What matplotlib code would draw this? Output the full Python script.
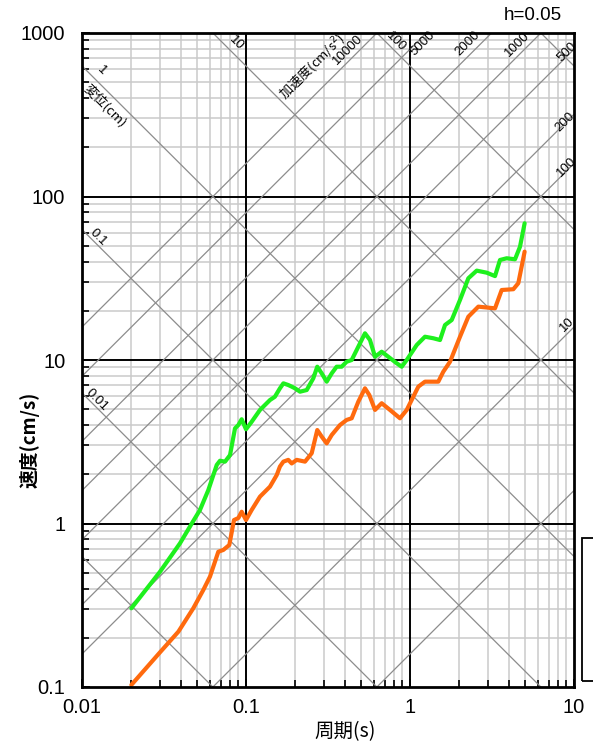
import numpy as np
import matplotlib
matplotlib.use("Agg")
import matplotlib.pyplot as plt
from matplotlib.patches import Rectangle

plt.rcParams['font.family'] = ['Liberation Sans', 'Noto Sans CJK JP']

# ---- data (period s, velocity cm/s) ----
green_T = [0.020, 0.0299, 0.0396, 0.0467, 0.0524, 0.0589, 0.0663, 0.0694, 0.0745, 0.0799,
           0.0857, 0.0898, 0.0941, 0.100, 0.1083, 0.1217, 0.140, 0.150, 0.161, 0.169,
           0.181, 0.190, 0.199, 0.2135, 0.2345, 0.2573, 0.272, 0.2894, 0.3105, 0.3333,
           0.357, 0.383, 0.411, 0.441, 0.484, 0.5315, 0.570, 0.612, 0.672, 0.737,
           0.830, 0.890, 0.955, 1.099, 1.234, 1.388, 1.524, 1.635, 1.796, 2.018,
           2.268, 2.551, 2.936, 3.299, 3.538, 3.886, 4.368, 4.685, 5.0]
green_V = [0.303, 0.507, 0.757, 1.00, 1.21, 1.60, 2.28, 2.42, 2.39, 2.62,
           3.82, 4.00, 4.34, 3.77, 4.19, 4.95, 5.69, 5.96, 6.71, 7.20,
           7.03, 6.87, 6.71, 6.40, 6.55, 7.73, 9.10, 8.29, 7.37, 8.29,
           9.10, 9.10, 9.76, 10.0, 12.06, 14.56, 13.25, 10.47, 11.24, 10.47,
           9.55, 9.10, 10.0, 12.35, 13.88, 13.58, 13.25, 16.37, 17.56, 23.3,
           31.6, 35.2, 34.2, 32.6, 40.9, 41.9, 41.3, 49.3, 68.6]

orange_T = [0.020, 0.0299, 0.0387, 0.0477, 0.0549, 0.0603, 0.0678, 0.0727, 0.0791, 0.0845,
            0.0898, 0.0941, 0.100, 0.1083, 0.1217, 0.140, 0.154, 0.161, 0.169, 0.181,
            0.190, 0.2038, 0.229, 0.2515, 0.272, 0.2894, 0.3105, 0.3333, 0.374, 0.411,
            0.441, 0.484, 0.5315, 0.5646, 0.612, 0.672, 0.755, 0.869, 0.955, 1.124,
            1.234, 1.488, 1.596, 1.754, 2.018, 2.268, 2.610, 3.299, 3.623, 4.266,
            4.575, 5.0]
orange_V = [0.103, 0.163, 0.218, 0.303, 0.392, 0.473, 0.672, 0.689, 0.739, 1.05,
            1.08, 1.18, 1.05, 1.21, 1.46, 1.68, 1.98, 2.23, 2.39, 2.45,
            2.33, 2.45, 2.39, 2.69, 3.73, 3.40, 3.09, 3.48, 4.00, 4.30,
            4.40, 5.56, 6.71, 6.11, 4.95, 5.44, 4.95, 4.40, 4.95, 6.87,
            7.37, 7.37, 8.48, 9.76, 13.88, 18.4, 21.2, 20.7, 26.8, 27.1,
            29.5, 46.0]

disp_lines = [0.001, 0.01, 0.1, 1, 10, 100, 1000]           # cm
acc_lines = [1, 10, 100, 200, 500, 1000, 2000, 5000, 10000]  # cm/s^2

x_ticks = [0.01, 0.1, 1, 10]
x_ticklabels = ['0.01', '0.1', '1', '10']
y_ticks = [0.1, 1, 10, 100, 1000]
y_ticklabels = ['0.1', '1', '10', '100', '1000']

# ---- figure ----
W, H = 593, 750
fig = plt.figure(figsize=(W / 100, H / 100), dpi=100)
ax = fig.add_axes([82 / W, 1 - 687 / H, (574 - 82) / W, (687 - 33) / H])
ax.set_xscale('log')
ax.set_yscale('log')
ax.set_xlim(0.01, 10)
ax.set_ylim(0.1, 1000)

# grid
minor_col = '#cacaca'
for dec in [0.01, 0.1, 1]:
    for k in range(2, 10):
        ax.axvline(dec * k, color=minor_col, lw=1.1, zorder=1)
for dec in [0.1, 1, 10, 100]:
    for k in range(2, 10):
        ax.axhline(dec * k, color=minor_col, lw=1.1, zorder=1)
for v in [0.1, 1]:
    ax.axvline(v, color='black', lw=1.4, zorder=2)
for v in [1, 10, 100]:
    ax.axhline(v, color='black', lw=1.4, zorder=2)

# tripartite lines
T = np.logspace(-2.2, 1.2, 50)
for D in disp_lines:
    ax.plot(T, 2 * np.pi * D / T, color='#8c8c8c', lw=0.9, zorder=3)
for A in acc_lines:
    ax.plot(T, A * T / (2 * np.pi), color='#8c8c8c', lw=0.9, zorder=3)

# curves
ax.plot(green_T, green_V, color='#1ef01e', lw=3.0, solid_joinstyle='round',
        solid_capstyle='round', zorder=5)
ax.plot(orange_T, orange_V, color='#ff6a0e', lw=3.0, solid_joinstyle='round',
        solid_capstyle='round', zorder=5)

# line labels
lfs = 9.5
dlabels = [('1', 0.0131, 586), ('10', 0.0869, 869), ('0.1', 0.01252, 56.5),
           ('0.01', 0.01235, 5.69), ('100', 0.821, 881)]
for s, tx, ty in dlabels:
    ax.text(tx, ty, s, rotation=-45, ha='center', va='center', fontsize=lfs, zorder=6)
ax.text(0.0138, 358, '変位(cm)', rotation=-45, ha='center', va='center', fontsize=lfs,
        family=['Noto Sans CJK JP'], zorder=6)
alabels = [('10000', 0.419, 787), ('5000', 1.20, 869), ('2000', 2.26, 869),
           ('1000', 4.49, 856), ('500', 9.06, 765), ('200', 8.81, 285),
           ('100', 9.06, 151), ('10', 9.06, 16.4)]
for s, tx, ty in alabels:
    ax.text(tx, ty, s, rotation=45, ha='center', va='center', fontsize=lfs, zorder=6)
ax.text(0.256, 619, '加速度(cm/s$^2$)', rotation=45, ha='center', va='center',
        fontsize=lfs, family=['Noto Sans CJK JP', 'DejaVu Sans'], zorder=6)

# axes styling
for sp in ax.spines.values():
    sp.set_linewidth(2.0)
    sp.set_zorder(7)
ax.set_xticks(x_ticks)
ax.set_xticklabels(x_ticklabels)
ax.set_yticks(y_ticks)
ax.set_yticklabels(y_ticklabels)
ax.tick_params(which='both', direction='in', top=False, right=False, labelsize=14.5)
ax.tick_params(which='major', length=6, width=1.4)
ax.tick_params(which='minor', length=5, width=1.2)
ax.tick_params(axis='y', which='major', pad=12)
ax.tick_params(axis='x', which='major', pad=8)
ax.xaxis.set_minor_formatter(matplotlib.ticker.NullFormatter())
ax.yaxis.set_minor_formatter(matplotlib.ticker.NullFormatter())

fig.text(30 / W, 1 - 440 / H, '速度(cm/s)', rotation=90, ha='center', va='center',
         fontsize=13.5, fontweight='bold', family=['Noto Sans CJK JP'])
fig.text(345 / W, 1 - 732 / H, '周期(s)', ha='center', va='center', fontsize=14,
         family=['Noto Sans CJK JP'])
fig.text(562 / W, 1 - 16 / H, 'h=0.05', ha='right', va='center', fontsize=13.5)

fig.patches.append(Rectangle((582 / W, 1 - 681 / H), 30 / W, (681 - 538) / H,
                             transform=fig.transFigure, fill=False, ec='black', lw=1.3))

fig.savefig('out.png', dpi=100)
